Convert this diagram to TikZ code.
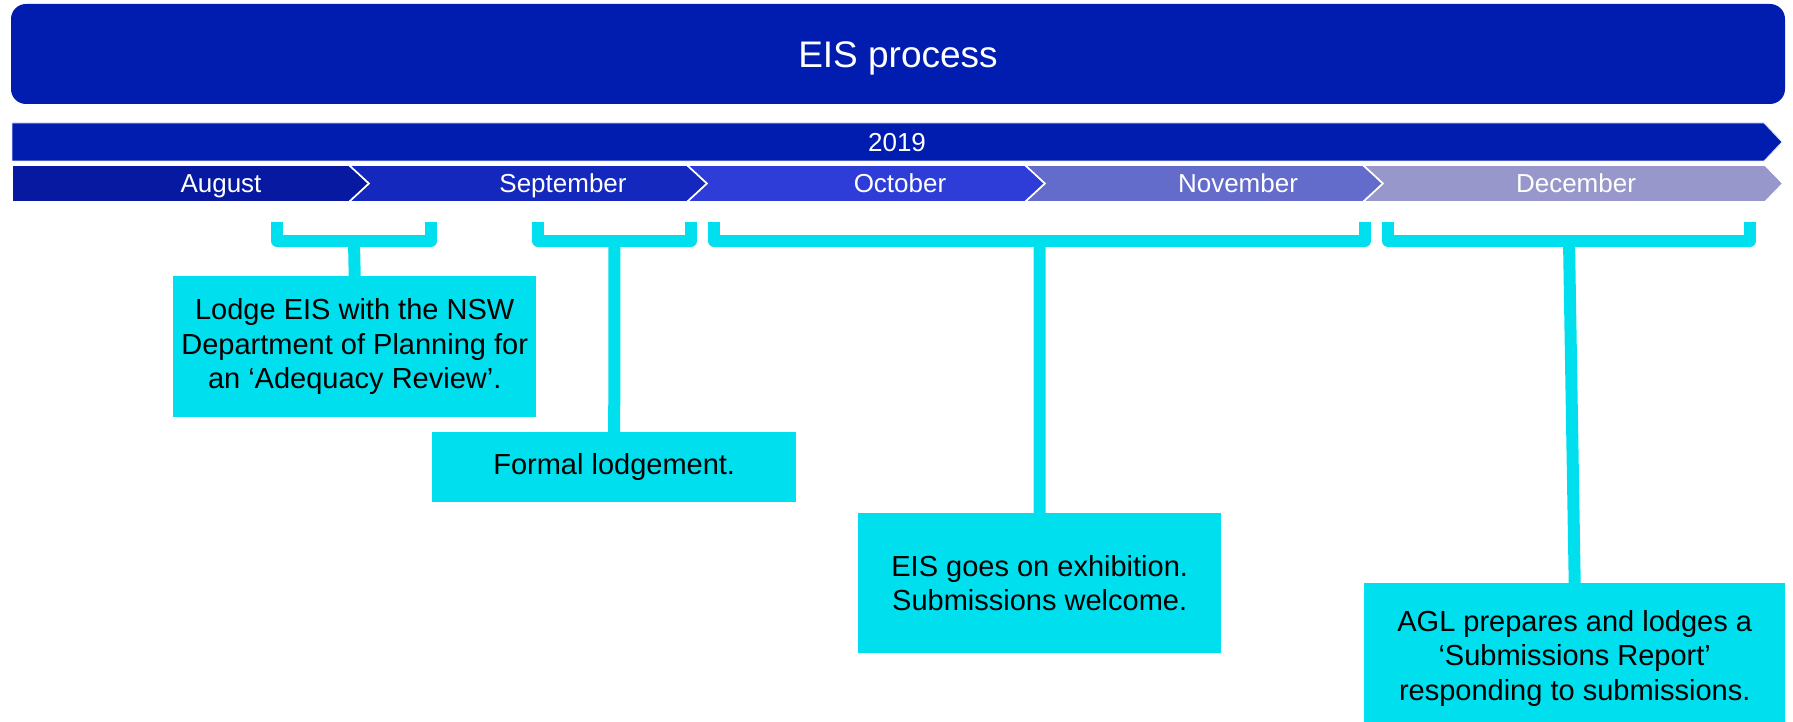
\documentclass[tikz,border=0pt]{standalone}
\usepackage{fontspec}
\setmainfont{Liberation Sans}
\definecolor{titleblue}{HTML}{001DAF}
\definecolor{augc}{HTML}{0619A0}
\definecolor{sepc}{HTML}{1528BE}
\definecolor{octc}{HTML}{2E3DD7}
\definecolor{novc}{HTML}{636BCB}
\definecolor{decc}{HTML}{9797CB}
\definecolor{cyanbox}{HTML}{00DFEE}
\begin{document}
\begin{tikzpicture}[x=1pt,y=-1pt,
  seg/.style={draw=white,line width=1.6pt,line join=miter},
  monthlbl/.style={text=white,font=\fontsize{26}{30}\selectfont,inner sep=0pt,anchor=base},
  evbox/.style={fill=cyanbox,inner sep=0pt,anchor=north west,align=center,font=\fontsize{29}{34.5}\selectfont,text=black},
  brk/.style={draw=cyanbox,line width=12pt,line join=round,line cap=butt},
  stemline/.style={draw=cyanbox,line width=12pt,line cap=butt}
]
\useasboundingbox (0,0) rectangle (1793,722);

% title banner
\fill[titleblue,rounded corners=15pt] (11,4) rectangle (1785,104);
\node[text=white,font=\fontsize{37}{44}\selectfont,inner sep=0pt,anchor=base] (title) at (898,68) {EIS process};

% year bar
\fill[titleblue,draw=white!88!blue,line width=0.8pt] (12,123) -- (1764,123) -- (1782,142) -- (1764,161) -- (12,161) -- cycle;
\node[monthlbl] (year) at (897,152) {2019};

% month chevrons
\path[seg,fill=augc] (12,165) -- (349,165) -- (369,183.5) -- (349,202) -- (12,202) -- cycle;
\path[seg,fill=sepc] (349,165) -- (687,165) -- (707,183.5) -- (687,202) -- (349,202) -- (369,183.5) -- cycle;
\path[seg,fill=octc] (687,165) -- (1025,165) -- (1045,183.5) -- (1025,202) -- (687,202) -- (707,183.5) -- cycle;
\path[seg,fill=novc] (1025,165) -- (1363,165) -- (1383,183.5) -- (1363,202) -- (1025,202) -- (1045,183.5) -- cycle;
\path[seg,fill=decc] (1363,165) -- (1765,165) -- (1783,183.5) -- (1765,202) -- (1363,202) -- (1383,183.5) -- cycle;

\node[monthlbl] (aug) at (221,193) {August};
\node[monthlbl] (sep) at (563,193) {September};
\node[monthlbl] (oct) at (900,193) {October};
\node[monthlbl] (nov) at (1238,193) {November};
\node[monthlbl] (dec) at (1576,193) {December};

% brackets
\draw[brk] (277,222) -- (277,241) -- (431,241) -- (431,222);
\draw[brk] (538,222) -- (538,241) -- (691,241) -- (691,222);
\draw[brk] (714,222) -- (714,241) -- (1365,241) -- (1365,222);
\draw[brk] (1388,222) -- (1388,241) -- (1750,241) -- (1750,222);
\coordinate (k1) at (354,241);
\coordinate (k2) at (614.5,241);
\coordinate (k3) at (1039.5,241);
\coordinate (k4) at (1569,241);

% event boxes
\node[evbox,minimum width=363pt,minimum height=141pt] (b1) at (173,276)
  {Lodge EIS with the NSW\\Department of Planning for\\an ‘Adequacy Review’.};
\node[evbox,minimum width=364pt,minimum height=70pt] (b2) at (432,432)
  {Formal lodgement.};
\node[evbox,minimum width=363pt,minimum height=140pt] (b3) at (858,513)
  {EIS goes on exhibition.\\Submissions welcome.};
\node[evbox,minimum width=421pt,minimum height=150pt] (b4) at (1364,583)
  {AGL prepares and lodges a\\‘Submissions Report’\\responding to submissions.};

% stems
\draw[stemline] (k1) -- (b1.north);
\draw[stemline] (k2) -- (b2.north);
\draw[stemline] (k3) -- (b3.north);
\draw[stemline] (k4) -- (b4.north);
\end{tikzpicture}
\end{document}
